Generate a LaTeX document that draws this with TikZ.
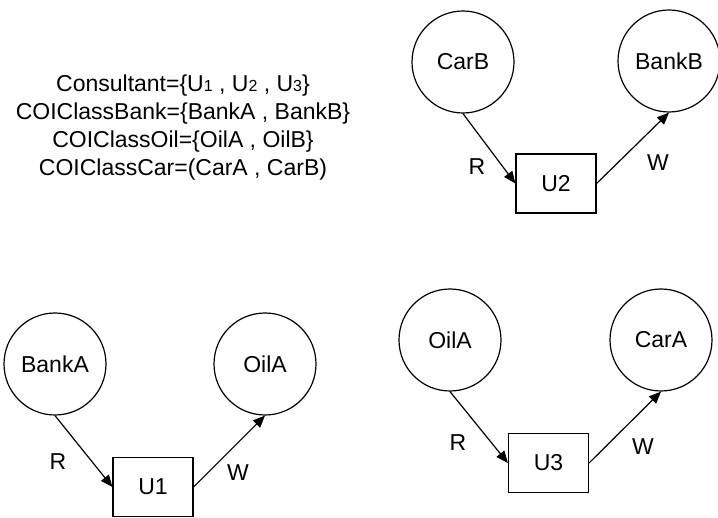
\documentclass[tikz,border=0pt]{standalone}
\usepackage{fontspec}
\setmainfont{Liberation Sans}
\usepackage{tikz}
\usetikzlibrary{arrows.meta,positioning}
\newcommand{\idx}[1]{{\fontsize{8}{8}\selectfont #1}}

\begin{document}
\begin{tikzpicture}[
        x=0.5pt, y=-0.5pt, line width=0.6pt,
        every node/.style={font=\fontsize{11.5}{14}\selectfont},
        obj/.style={circle, draw, minimum size=51pt, inner sep=0pt},
        subj/.style={rectangle, draw, minimum width=40pt, minimum height=29.5pt, inner sep=0pt},
        arr/.style={-{Triangle[length=6pt, width=5pt]}, line width=0.6pt}
    ]
    \useasboundingbox (0,0) rectangle (718,518);

    % Class definitions
    \node[align=center] (defs) at (183,128) {
        Consultant=\{U\idx{1} , U\idx{2} , U\idx{3}\}\\
        COIClassBank=\{BankA , BankB\}\\
        COIClassOil=\{OilA , OilB\}\\
        COIClassCar=(CarA , CarB)
    };

    % Consultant U2
    \node[subj] (U2) at (556,183.5) {U2};
    \node[obj] (CarB) at (463,62) {CarB};
    \node[obj] (BankB) at (669,61) {BankB};
    \draw[arr] (CarB.south) -- (U2.west);
    \draw[arr] (U2.east) -- (BankB.south);
    \node (R2) at (477,167) {R};
    \node (W2) at (658,163) {W};

    % Consultant U1
    \node[subj] (U1) at (153,487) {U1};
    \node[obj] (BankA) at (55,364) {BankA};
    \node[obj] (OilA1) at (265,364) {OilA};
    \draw[arr] (BankA.south) -- (U1.west);
    \draw[arr] (U1.east) -- (OilA1.south);
    \node (R1) at (58,462) {R};
    \node (W1) at (238,473) {W};

    % Consultant U3
    \node[subj] (U3) at (548.5,463) {U3};
    \node[obj] (OilA3) at (450,340) {OilA};
    \node[obj] (CarA) at (661,340) {CarA};
    \draw[arr] (OilA3.south) -- (U3.west);
    \draw[arr] (U3.east) -- (CarA.south);
    \node (R3) at (458,443) {R};
    \node (W3) at (643,447) {W};
\end{tikzpicture}
\end{document}
